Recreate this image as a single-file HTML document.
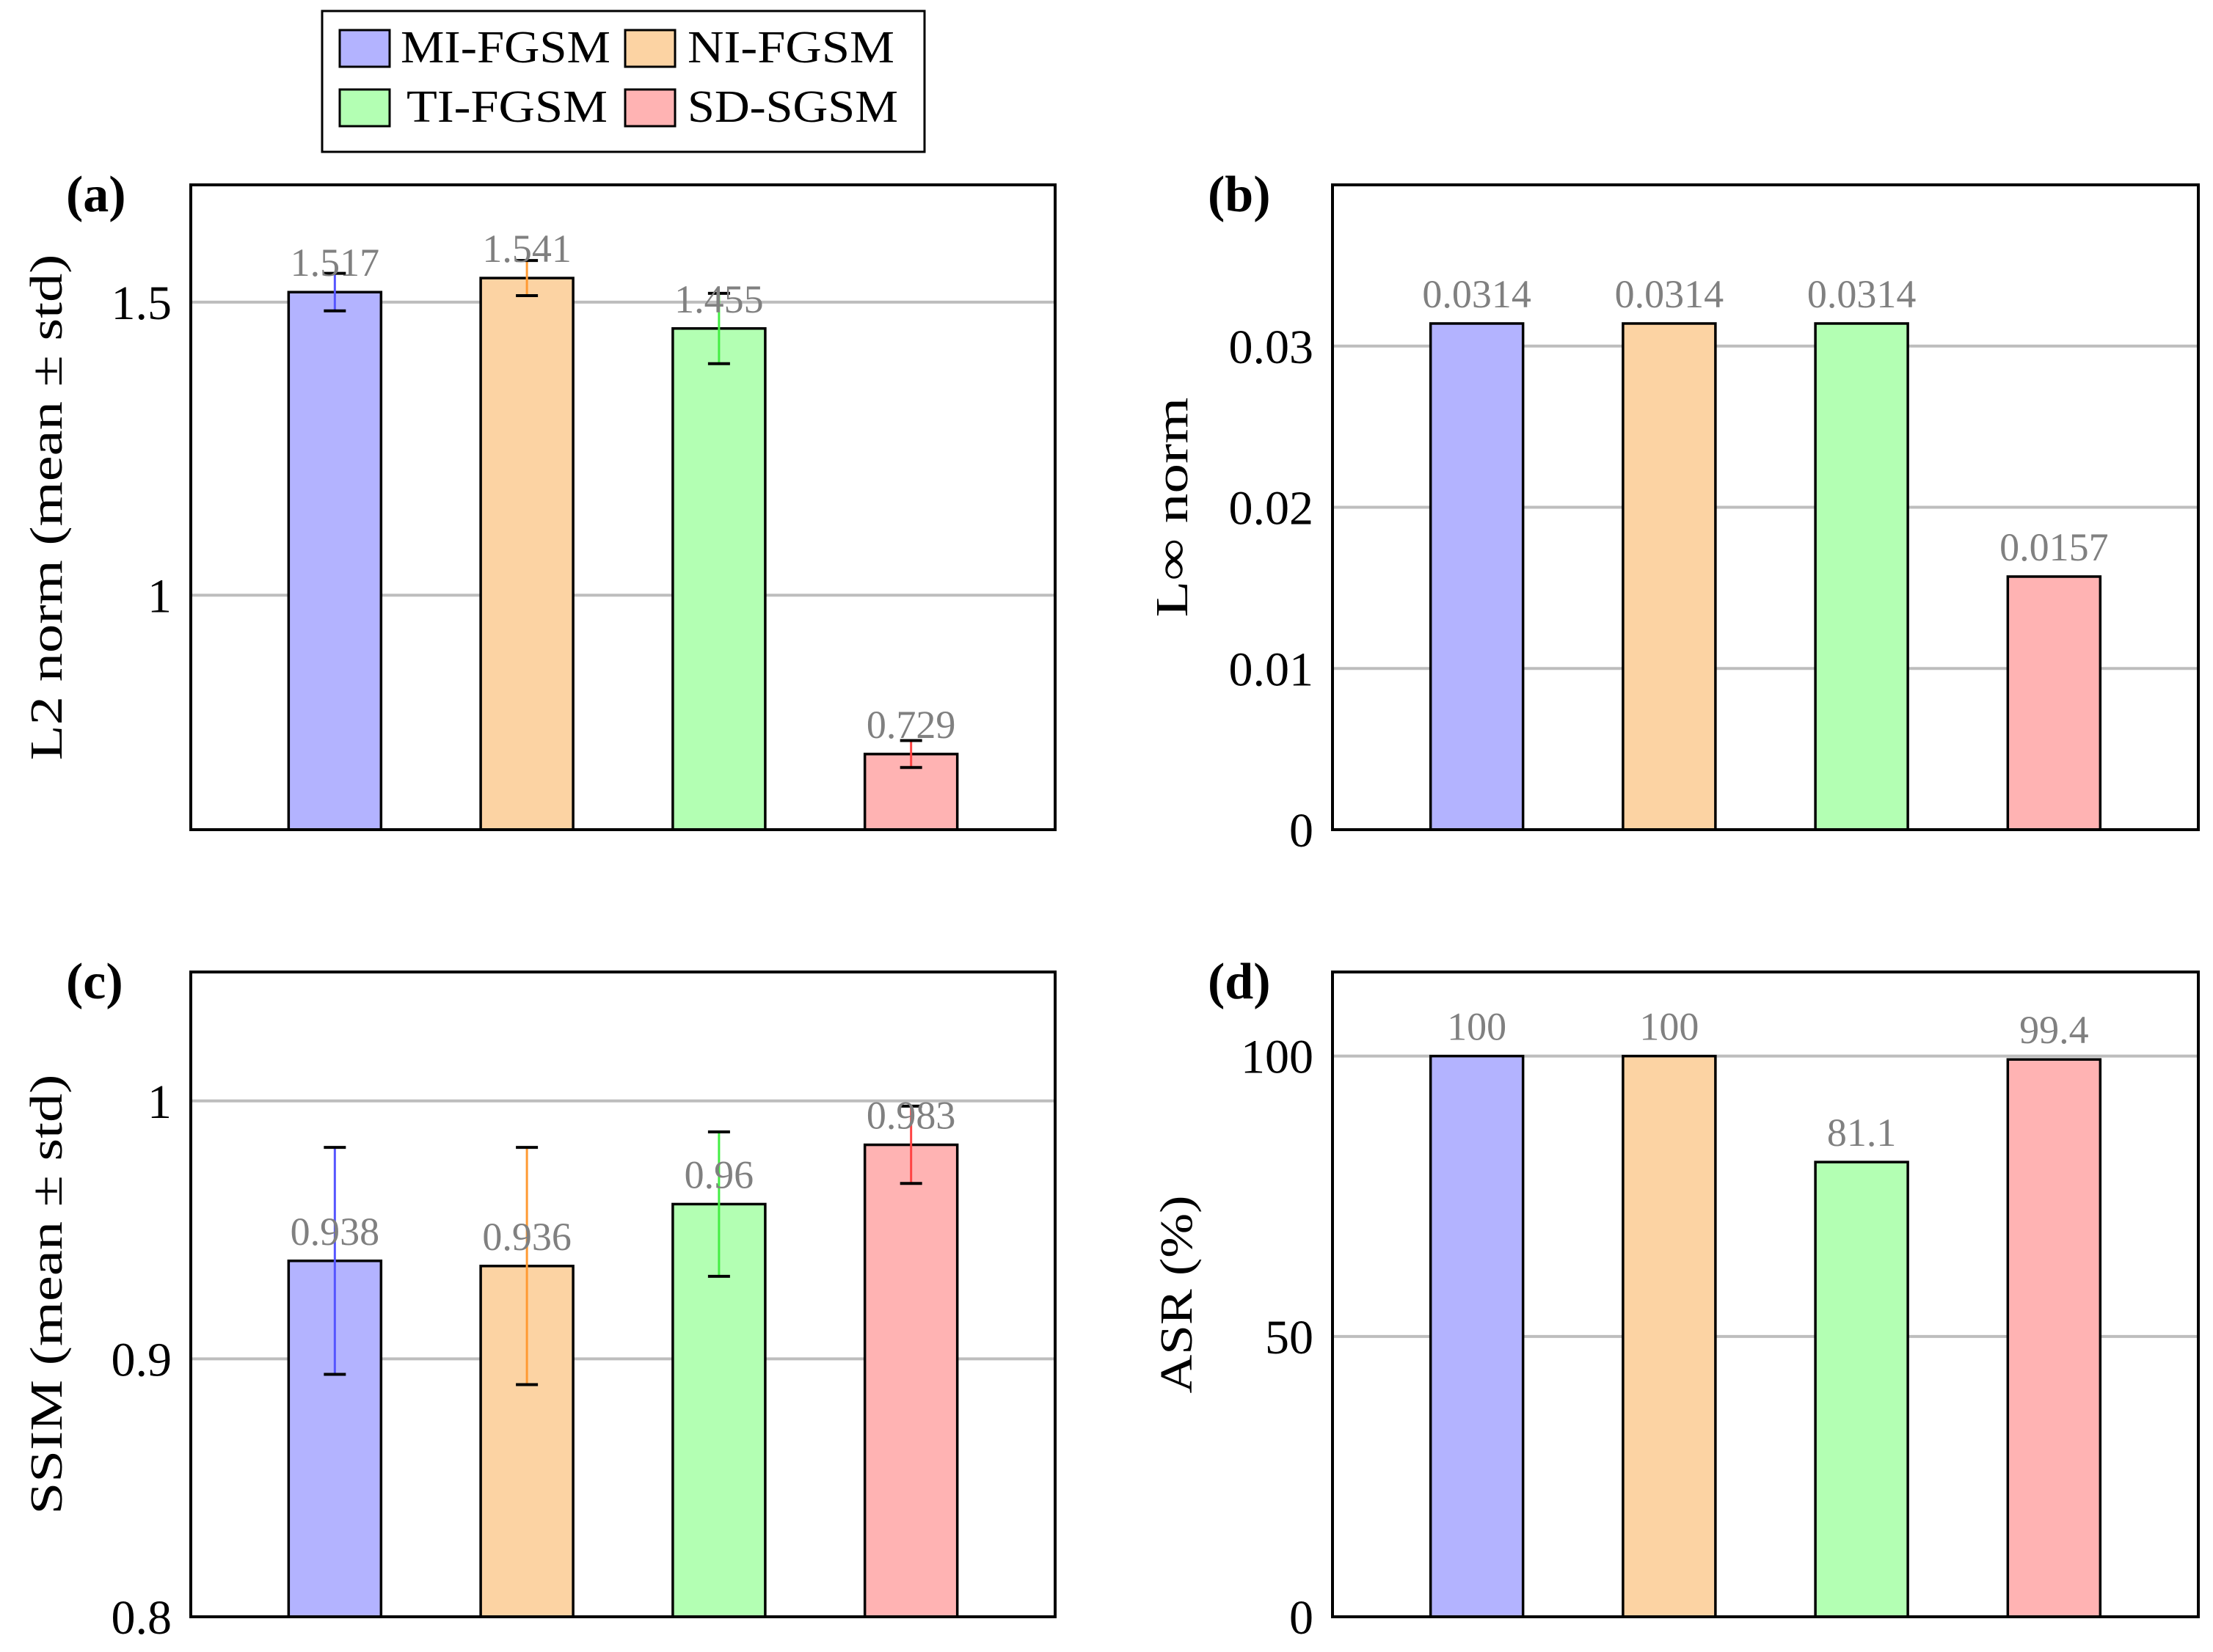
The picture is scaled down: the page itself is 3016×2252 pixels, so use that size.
<!DOCTYPE html>
<html><head><meta charset="utf-8"><style>
html,body{margin:0;padding:0;background:#fff}
svg{display:block}
text{font-family:"Liberation Serif",serif}
</style></head><body>
<svg id="fig" width="3016" height="2252" viewBox="0 0 3016 2252" xmlns="http://www.w3.org/2000/svg">
<g>
<rect x="439" y="15" width="821" height="192" fill="#fff" stroke="#000" stroke-width="3"/>
<rect x="463" y="41" width="68" height="50" fill="#b3b3ff" stroke="#000" stroke-width="3"/>
<text x="546" y="85" font-size="62" textLength="286" lengthAdjust="spacingAndGlyphs">MI-FGSM</text>
<rect x="852" y="41" width="68" height="50" fill="#fcd3a3" stroke="#000" stroke-width="3"/>
<text x="937" y="85" font-size="62" textLength="282" lengthAdjust="spacingAndGlyphs">NI-FGSM</text>
<rect x="463" y="122" width="68" height="50" fill="#b3ffb3" stroke="#000" stroke-width="3"/>
<text x="554" y="166" font-size="62" textLength="274" lengthAdjust="spacingAndGlyphs">TI-FGSM</text>
<rect x="852" y="122" width="68" height="50" fill="#ffb3b3" stroke="#000" stroke-width="3"/>
<text x="937" y="166" font-size="62" textLength="287" lengthAdjust="spacingAndGlyphs">SD-SGSM</text>
</g>
</svg>
<script>
const categories = ["MI-FGSM","NI-FGSM","TI-FGSM","SD-SGSM"];
const l2Values = [1.517, 1.541, 1.455, 0.729];
const l2Std = [0.032, 0.030, 0.060, 0.023];
const l2Labels = ["1.517","1.541","1.455","0.729"];
const l2Ticks = [1, 1.5];
const l2TickLabels = ["1","1.5"];
const linfValues = [0.0314, 0.0314, 0.0314, 0.0157];
const linfLabels = ["0.0314","0.0314","0.0314","0.0157"];
const linfTicks = [0, 0.01, 0.02, 0.03];
const linfTickLabels = ["0","0.01","0.02","0.03"];
const ssimValues = [0.938, 0.936, 0.96, 0.983];
const ssimStd = [0.044, 0.046, 0.028, 0.015];
const ssimLabels = ["0.938","0.936","0.96","0.983"];
const ssimTicks = [0.8, 0.9, 1];
const ssimTickLabels = ["0.8","0.9","1"];
const asrValues = [100, 100, 81.1, 99.4];
const asrLabels = ["100","100","81.1","99.4"];
const asrTicks = [0, 50, 100];
const asrTickLabels = ["0","50","100"];

const fills = ["#b3b3ff","#fcd3a3","#b3ffb3","#ffb3b3"];
const errColors = ["#5555ff","#ff9a33","#44ee44","#ff4444"];
const NS = "http://www.w3.org/2000/svg";
const svg = document.getElementById("fig");
function mk(tag, attrs, parent){const e=document.createElementNS(NS,tag);for(const k in attrs)e.setAttribute(k,attrs[k]);parent.appendChild(e);return e;}

function panel(o){
  const g = mk("g",{},svg);
  
  
  const L=o.x, R=o.x+o.w, T=o.y, B=o.y+879;
  const yS = v => B - (v - o.ymin)/(o.ymax - o.ymin)*(B-T);
  const xS = i => L + (i + 0.75)/4.5*(R-L);
  o.ticks.forEach((t,i)=>{
    const y=yS(t);
    if (t>o.ymin){
      const gl = mk("line",{x1:L,x2:R,y1:y,y2:y,stroke:"#bdbdbd","stroke-width":4},g);
      
      
    }
    const tl = mk("text",{x:L-26,y:y+23,"font-size":66,"text-anchor":"end"},g);
    
    
    tl.textContent=o.tickLabels[i];
  });
  o.values.forEach((v,i)=>{
    const cx=xS(i), w=126;
    const b = mk("rect",{x:cx-w/2,y:yS(v),width:w,height:B-yS(v),fill:fills[i],stroke:"#000","stroke-width":3.5},g);
    
    
    if (o.std){
      const y1=yS(v+o.std[i]), y2=yS(v-o.std[i]);
      const el = mk("line",{x1:cx,x2:cx,y1:y1,y2:y2,stroke:errColors[i],"stroke-width":3},g);
      
      
      [y1,y2].forEach(yy=>{
        const c = mk("line",{x1:cx-15,x2:cx+15,y1:yy,y2:yy,stroke:"#000","stroke-width":4},g);
        
        
      });
    }
    const vl = mk("text",{x:cx,y:yS(v)-22,"font-size":54,"text-anchor":"middle",fill:"#808080"},g);
    
    
    vl.textContent=o.labels[i];
  });
  const box = mk("rect",{x:L,y:T,width:R-L,height:B-T,fill:"none",stroke:"#000","stroke-width":4},g);
  
  
  const pl = mk("text",{x:L-170,y:T+36,"font-size":70,"font-weight":"bold"},g);
  
  
  pl.textContent=o.tag;
  const cy=(T+B)/2;
  const at = mk("text",{x:o.tx,y:cy,"font-size":62,"text-anchor":"middle",transform:`rotate(-90 ${o.tx} ${cy})`},g);
  
  
  if (o.tLen){at.setAttribute("textLength",o.tLen);at.setAttribute("lengthAdjust","spacingAndGlyphs");}
  at.textContent=o.title;
}
panel({name:"panel-a-l2",x:260,w:1178,y:252,ymin:0.6,ymax:1.7,values:l2Values,std:l2Std,labels:l2Labels,ticks:l2Ticks,tickLabels:l2TickLabels,tag:"(a)",title:"L2 norm (mean ± std)",tx:84,tLen:690});
panel({name:"panel-b-linf",x:1816,w:1180,y:252,ymin:0,ymax:0.04,values:linfValues,labels:linfLabels,ticks:linfTicks,tickLabels:linfTickLabels,tag:"(b)",title:"L∞ norm",tx:1618,tLen:300});
panel({name:"panel-c-ssim",x:260,w:1178,y:1325,ymin:0.8,ymax:1.05,values:ssimValues,std:ssimStd,labels:ssimLabels,ticks:ssimTicks,tickLabels:ssimTickLabels,tag:"(c)",title:"SSIM (mean ± std)",tx:84,tLen:600});
panel({name:"panel-d-asr",x:1816,w:1180,y:1325,ymin:0,ymax:115,values:asrValues,labels:asrLabels,ticks:asrTicks,tickLabels:asrTickLabels,tag:"(d)",title:"ASR (%)",tx:1624,tLen:270});
</script>
</body></html>
